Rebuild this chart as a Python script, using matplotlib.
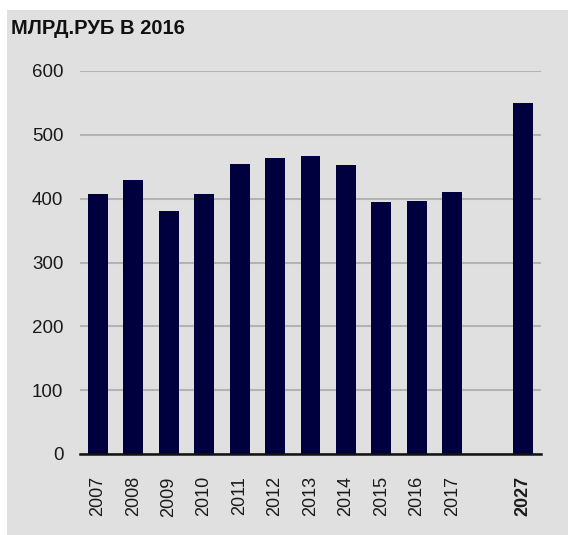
import matplotlib.pyplot as plt
from matplotlib.patches import Rectangle

plt.rcParams['font.family'] = ['Liberation Sans', 'DejaVu Sans']

# данные
years = ['2007', '2008', '2009', '2010', '2011', '2012', '2013', '2014',
         '2015', '2016', '2017', '2027']
values = [407, 429, 380, 408, 454, 463, 467, 453, 395, 397, 410, 550]
positions = [0, 1, 2, 3, 4, 5, 6, 7, 8, 9, 10, 12]
y_ticks = [0, 100, 200, 300, 400, 500, 600]

W, H = 568, 535
fig = plt.figure(figsize=(W / 100, H / 100), dpi=100, facecolor='white')

# серая подложка
fig.patches.append(Rectangle((7 / W, 0), 1 - 7 / W, 1 - 10 / H,
                             transform=fig.transFigure, facecolor='#e0e0e0',
                             edgecolor='none', zorder=-10))

ax = fig.add_axes([80 / W, 1 - 454 / H, (541 - 80) / W, (454 - 71) / H])
ax.set_facecolor('none')

ax.bar(positions, values, width=0.56, color='#00003f', zorder=3)

ax.set_xlim(-0.5, 12.5)
ax.set_ylim(0, 600)
ax.set_yticks(y_ticks)
ax.set_yticklabels([str(v) for v in y_ticks], fontsize=13.5, color='#1a1a1a')
ax.set_xticks(positions)
ax.set_xticklabels(years, rotation=90, fontsize=13, color='#1a1a1a')
ax.get_xticklabels()[-1].set_fontweight('bold')
ax.tick_params(axis='y', length=0, pad=12)
ax.tick_params(axis='x', length=0, pad=16)

ax.grid(axis='y', color='#b3b3b3', linewidth=1.5, zorder=1)
ax.set_axisbelow(True)
for s in ['top', 'right', 'left']:
    ax.spines[s].set_visible(False)
ax.spines['bottom'].set_color('#111111')
ax.spines['bottom'].set_linewidth(1.8)
ax.spines['bottom'].set_zorder(4)

fig.text(11 / W, 1 - 34 / H, 'МЛРД.РУБ В 2016', fontsize=14.5, fontweight='bold',
         va='baseline', ha='left', color='#111111')

fig.savefig('out.png', dpi=100)
